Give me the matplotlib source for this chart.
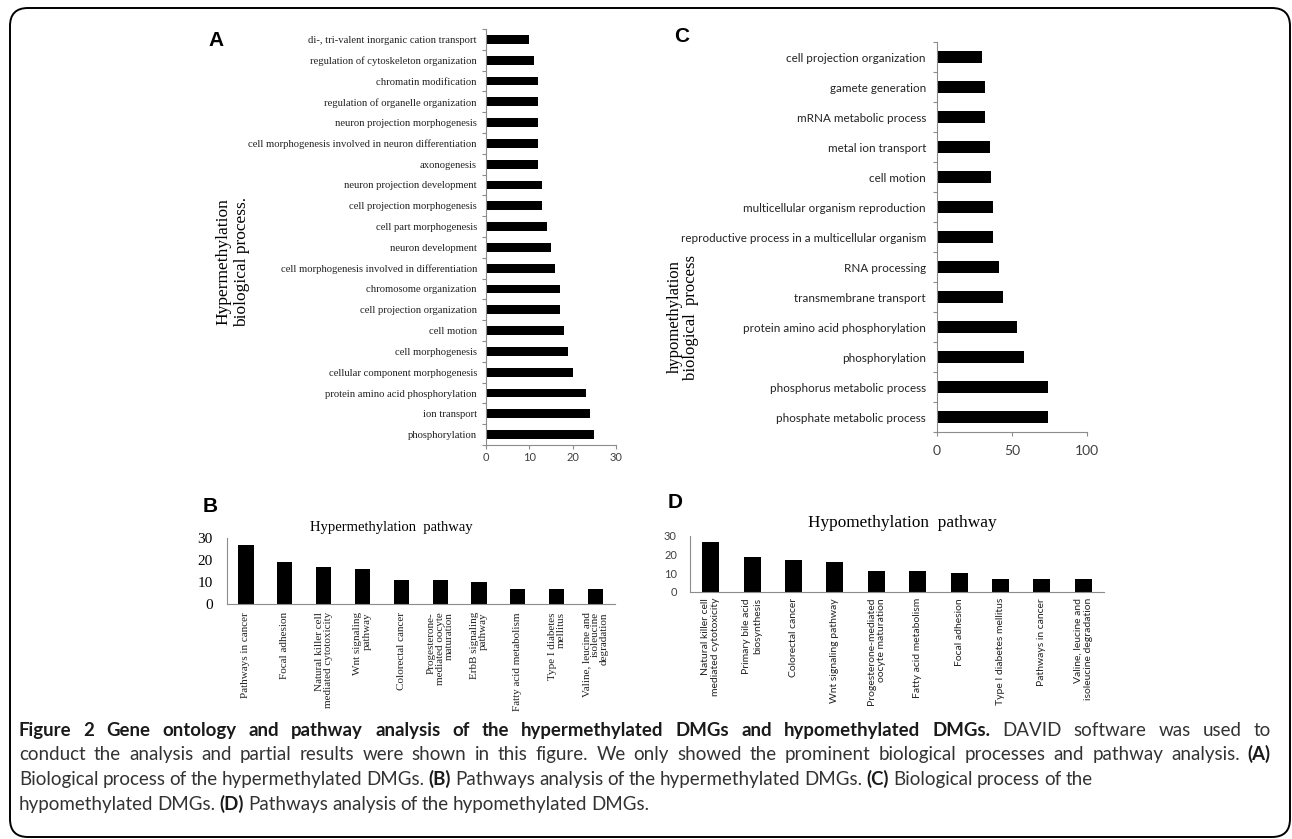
import matplotlib
matplotlib.use("Agg")
import matplotlib.pyplot as plt
import numpy as np
from matplotlib.patches import FancyBboxPatch
from matplotlib.transforms import IdentityTransform

SERIF = "Liberation Serif"
SANS = "Lato"
GREY = "#404040"
SPINE = "#8c8c8c"

# (A) hypermethylation biological process, top to bottom
hyper_bp = ["di-, tri-valent inorganic cation transport",
            "regulation of cytoskeleton organization",
            "chromatin modification",
            "regulation of organelle organization",
            "neuron projection morphogenesis",
            "cell morphogenesis involved in neuron differentiation",
            "axonogenesis",
            "neuron projection development",
            "cell projection morphogenesis",
            "cell part morphogenesis",
            "neuron development",
            "cell morphogenesis involved in differentiation",
            "chromosome organization",
            "cell projection organization",
            "cell motion",
            "cell morphogenesis",
            "cellular component morphogenesis",
            "protein amino acid phosphorylation",
            "ion transport",
            "phosphorylation"]
hyper_bp_counts = [10, 11, 12, 12, 12, 12, 12, 13, 13, 14, 15, 16, 17, 17, 18, 19, 20, 23, 24, 25]

# (C) hypomethylation biological process, top to bottom
hypo_bp = ["cell projection organization",
           "gamete generation",
           "mRNA metabolic process",
           "metal ion transport",
           "cell motion",
           "multicellular organism reproduction",
           "reproductive process in a multicellular organism",
           "RNA processing",
           "transmembrane transport",
           "protein amino acid phosphorylation",
           "phosphorylation",
           "phosphorus metabolic process",
           "phosphate metabolic process"]
hypo_bp_counts = [30, 32, 32, 35, 36, 37, 37, 41, 44, 53, 58, 74, 74]

# (B) hypermethylation pathway
hyper_pw = ["Pathways in cancer", "Focal adhesion",
            "Natural killer cell\nmediated cytotoxicity", "Wnt signaling\npathway",
            "Colorectal cancer", "Progesterone-\nmediated oocyte\nmaturation",
            "ErbB signaling\npathway", "Fatty acid metabolism",
            "Type I diabetes\nmellitus", "Valine, leucine and\nisoleucine\ndegradation"]
hyper_pw_counts = [27, 19, 17, 16, 11, 11, 10, 7, 7, 7]

# (D) hypomethylation pathway
hypo_pw = ["Natural killer cell\nmediated cytotoxicity", "Primary bile acid\nbiosynthesis",
           "Colorectal cancer", "Wnt signaling pathway",
           "Progesterone-mediated\noocyte maturation", "Fatty acid metabolism",
           "Focal adhesion", "Type I diabetes mellitus", "Pathways in cancer",
           "Valine, leucine and\nisoleucine degradation"]
hypo_pw_counts = [27, 19, 17, 16, 11, 11, 10, 7, 7, 7]

caption_title = "Figure 2 Gene ontology and pathway analysis of the hypermethylated DMGs and hypomethylated DMGs."
caption_body = [
    "DAVID software was used to",
    "conduct the analysis and partial results were shown in this figure. We only showed the prominent biological processes and pathway analysis.",
    "Biological process of the hypermethylated DMGs.",
    "Pathways analysis of the hypermethylated DMGs.",
    "Biological process of the",
    "hypomethylated DMGs.",
    "Pathways analysis of the hypomethylated DMGs.",
]

W, H = 1292, 839
fig = plt.figure(figsize=(W / 100, H / 100), dpi=100)


def px_axes(left, top, right, bottom):
    return fig.add_axes([left / W, 1 - bottom / H, (right - left) / W, (bottom - top) / H])


def fig_text(x, y, s, **kw):
    return fig.text(x / W, 1 - y / H, s, **kw)


def style_hbar(ax, labels, values, xmax, xticks, lab_font, lab_size, lab_pad, tick_size, tick_pad, bar_h):
    n = len(labels)
    ax.barh(np.arange(n), values, height=bar_h, color="black")
    ax.set_xlim(0, xmax)
    ax.set_ylim(n - 0.5, -0.5)
    ax.set_yticks(np.arange(n))
    ax.set_yticklabels(labels, family=lab_font, fontsize=lab_size, color="#222222")
    ax.set_yticks(np.arange(n + 1) - 0.5, minor=True)
    ax.tick_params(axis="y", which="major", length=0, pad=lab_pad)
    ax.tick_params(axis="y", which="minor", length=3, color=SPINE, width=0.8)
    ax.set_xticks(xticks)
    ax.set_xticklabels([str(t) for t in xticks], family=SANS, fontsize=tick_size, color=GREY)
    ax.tick_params(axis="x", length=3, color=SPINE, width=0.8, pad=tick_pad)
    for s in ["top", "right"]:
        ax.spines[s].set_visible(False)
    for s in ["left", "bottom"]:
        ax.spines[s].set_color(SPINE)
        ax.spines[s].set_linewidth(0.8)


def style_vbar(ax, labels, values, bar_w, lab_font, lab_size, lab_pad, tick_font, tick_size, tick_pad, tick_color, linesp):
    n = len(labels)
    ax.bar(np.arange(n), values, width=bar_w, color="black")
    ax.set_xlim(-0.5, n - 0.5)
    ax.set_ylim(0, 30)
    ax.set_yticks([0, 10, 20, 30])
    ax.set_yticklabels(["0", "10", "20", "30"], family=tick_font, fontsize=tick_size, color=tick_color)
    ax.set_xticks(np.arange(n))
    ax.set_xticklabels(labels, family=lab_font, fontsize=lab_size, rotation=90,
                       ha="center", va="top", multialignment="right", linespacing=linesp,
                       color="#222222")
    ax.tick_params(axis="x", length=0, pad=lab_pad)
    ax.tick_params(axis="y", length=0, pad=tick_pad)
    for s in ["top", "right"]:
        ax.spines[s].set_visible(False)
    for s in ["left", "bottom"]:
        ax.spines[s].set_color(SPINE)
        ax.spines[s].set_linewidth(0.8)


# panel A
axA = px_axes(486, 29, 616, 445)
style_hbar(axA, hyper_bp, hyper_bp_counts, 30, [0, 10, 20, 30], SERIF, 7.65, 6.5, 8, 2, 0.42)
fig_text(233, 262, "Hypermethylation\nbiological process.", family=SERIF, fontsize=12.5,
         rotation=90, ha="center", va="center", linespacing=1.25)

# panel C
axC = px_axes(937, 42, 1087, 432)
style_hbar(axC, hypo_bp, hypo_bp_counts, 100, [0, 50, 100], SANS, 8.4, 8, 10, 6, 0.41)
fig_text(683, 317, "hypomethylation\nbiological  process", family=SERIF, fontsize=12,
         rotation=90, ha="center", va="center", linespacing=0.95)

# panel B
axB = px_axes(226.5, 538, 615, 604)
style_vbar(axB, hyper_pw, hyper_pw_counts, 0.39, SERIF, 8, 5.8, SERIF, 11, 10, "black", 1.0)
fig_text(391, 527, "Hypermethylation  pathway", family=SERIF, fontsize=10.5, ha="center", va="center")

# panel D
axD = px_axes(690, 536, 1104, 592)
style_vbar(axD, hypo_pw, hypo_pw_counts, 0.41, SANS, 7.5, 4.3, SANS, 8, 9.4, GREY, 1.2)
fig_text(902, 523, "Hypomethylation  pathway", family=SERIF, fontsize=12.4, ha="center", va="center")

# panel letters
for letter, x, y in [("A", 216, 41), ("C", 682, 37), ("B", 210, 506), ("D", 675, 503)]:
    fig_text(x, y, letter, family="Liberation Sans", fontweight="bold", fontsize=15,
             ha="center", va="center")

# caption: each line is a list of (text, bold); words are placed one by one so that
# the first two lines can be justified like the printed caption
cap_lines = [
    (736, [(caption_title, True), (caption_body[0], False)], 1271),
    (760, [(caption_body[1], False), ("(A)", True)], 1271),
    (785, [(caption_body[2], False), ("(B)", True), (caption_body[3], False),
           ("(C)", True), (caption_body[4], False)], None),
    (810, [(caption_body[5], False), ("(D)", True), (caption_body[6], False)], None),
]
CAP_SIZE = 13.5
BOLD_SIZE = 13.4
renderer = fig.canvas.get_renderer()
space = CAP_SIZE * 0.3
for y, parts, right in cap_lines:
    words = []
    for txt, bold in parts:
        words += [(w, bold) for w in txt.split()]
    arts = []
    for w, bold in words:
        t = fig_text(0, y, w, family=SANS, va="baseline",
                     fontsize=BOLD_SIZE if bold else CAP_SIZE,
                     fontweight="bold" if bold else "normal",
                     color="#1a1a1a" if bold else "#333333")
        arts.append((t, t.get_window_extent(renderer).width))
    gap = space
    if right is not None:
        gap = (right - 19 - sum(a[1] for a in arts)) / (len(arts) - 1)
    x = 19
    for t, w in arts:
        t.set_x(x / W)
        x += w + gap

# rounded frame
frame = FancyBboxPatch((10, H - 837), 1280, 829, boxstyle="round,pad=0,rounding_size=18",
                       transform=IdentityTransform(), fill=False, edgecolor="black", linewidth=1.4)
fig.patches.append(frame)

fig.savefig("out.png", dpi=100)
